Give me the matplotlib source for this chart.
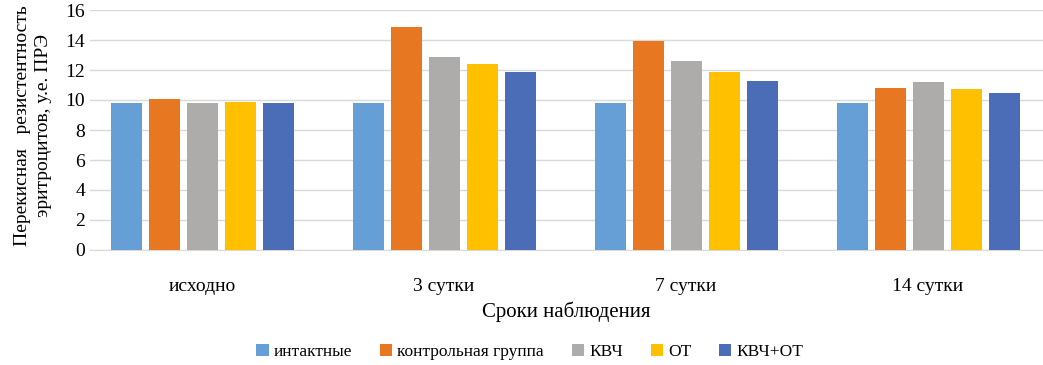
import matplotlib.pyplot as plt
import numpy as np

plt.rcParams['font.family'] = ['Liberation Serif', 'DejaVu Serif']

periods = ['исходно', '3 сутки', '7 сутки', '14 сутки']
groups = ['интактные', 'контрольная группа', 'КВЧ', 'ОТ', 'КВЧ+ОТ']
intact = [9.8, 9.8, 9.8, 9.8]
control = [10.05, 14.9, 13.95, 10.8]
kvch = [9.82, 12.9, 12.58, 11.18]
ot = [9.88, 12.42, 11.88, 10.73]
kvch_ot = [9.78, 11.84, 11.28, 10.5]
colors = ['#659FD6', '#E87722', '#AEABAB', '#FFC000', '#4B6CB7']

series = [intact, control, kvch, ot, kvch_ot]

fig = plt.figure(figsize=(10.43, 3.65), dpi=100)
ax = fig.add_axes([90 / 1043, 115 / 365, 1 - 90 / 1043, 240 / 365])

x = np.arange(len(periods))
w = 0.128
step = 0.157
for i, (vals, c, name) in enumerate(zip(series, colors, groups)):
    ax.bar(x + (i - 2) * step, vals, width=w, color=c, label=name, zorder=3)

ax.set_xlim(-0.463, 3.475)
ax.set_ylim(0, 16)
ax.set_yticks(range(0, 17, 2))
ax.yaxis.grid(True, color='#d9d9d9', linewidth=1, zorder=0)
for s in ['top', 'right', 'left']:
    ax.spines[s].set_visible(False)
ax.spines['bottom'].set_color('#d9d9d9')
ax.tick_params(axis='both', length=0, labelsize=14)
ax.tick_params(axis='x', pad=20)
ax.set_xticks(x)
ax.set_xticklabels(periods)

ax.set_xlabel('Сроки наблюдения', fontsize=15, labelpad=5)
fig.text(0.032, 0.655, 'Перекисная   резистентность\nэритроцитов, у.е. ПРЭ',
         rotation=90, ha='center', va='center', fontsize=14, linespacing=1.3)

fig.legend(loc='center', bbox_to_anchor=(0.508, 0.036), ncol=5, frameon=False,
           prop={'family': 'Liberation Serif', 'size': 12.5},
           handlelength=0.7, handleheight=0.7, handletextpad=0.3,
           columnspacing=1.6)

fig.savefig('out.png', dpi=100)
